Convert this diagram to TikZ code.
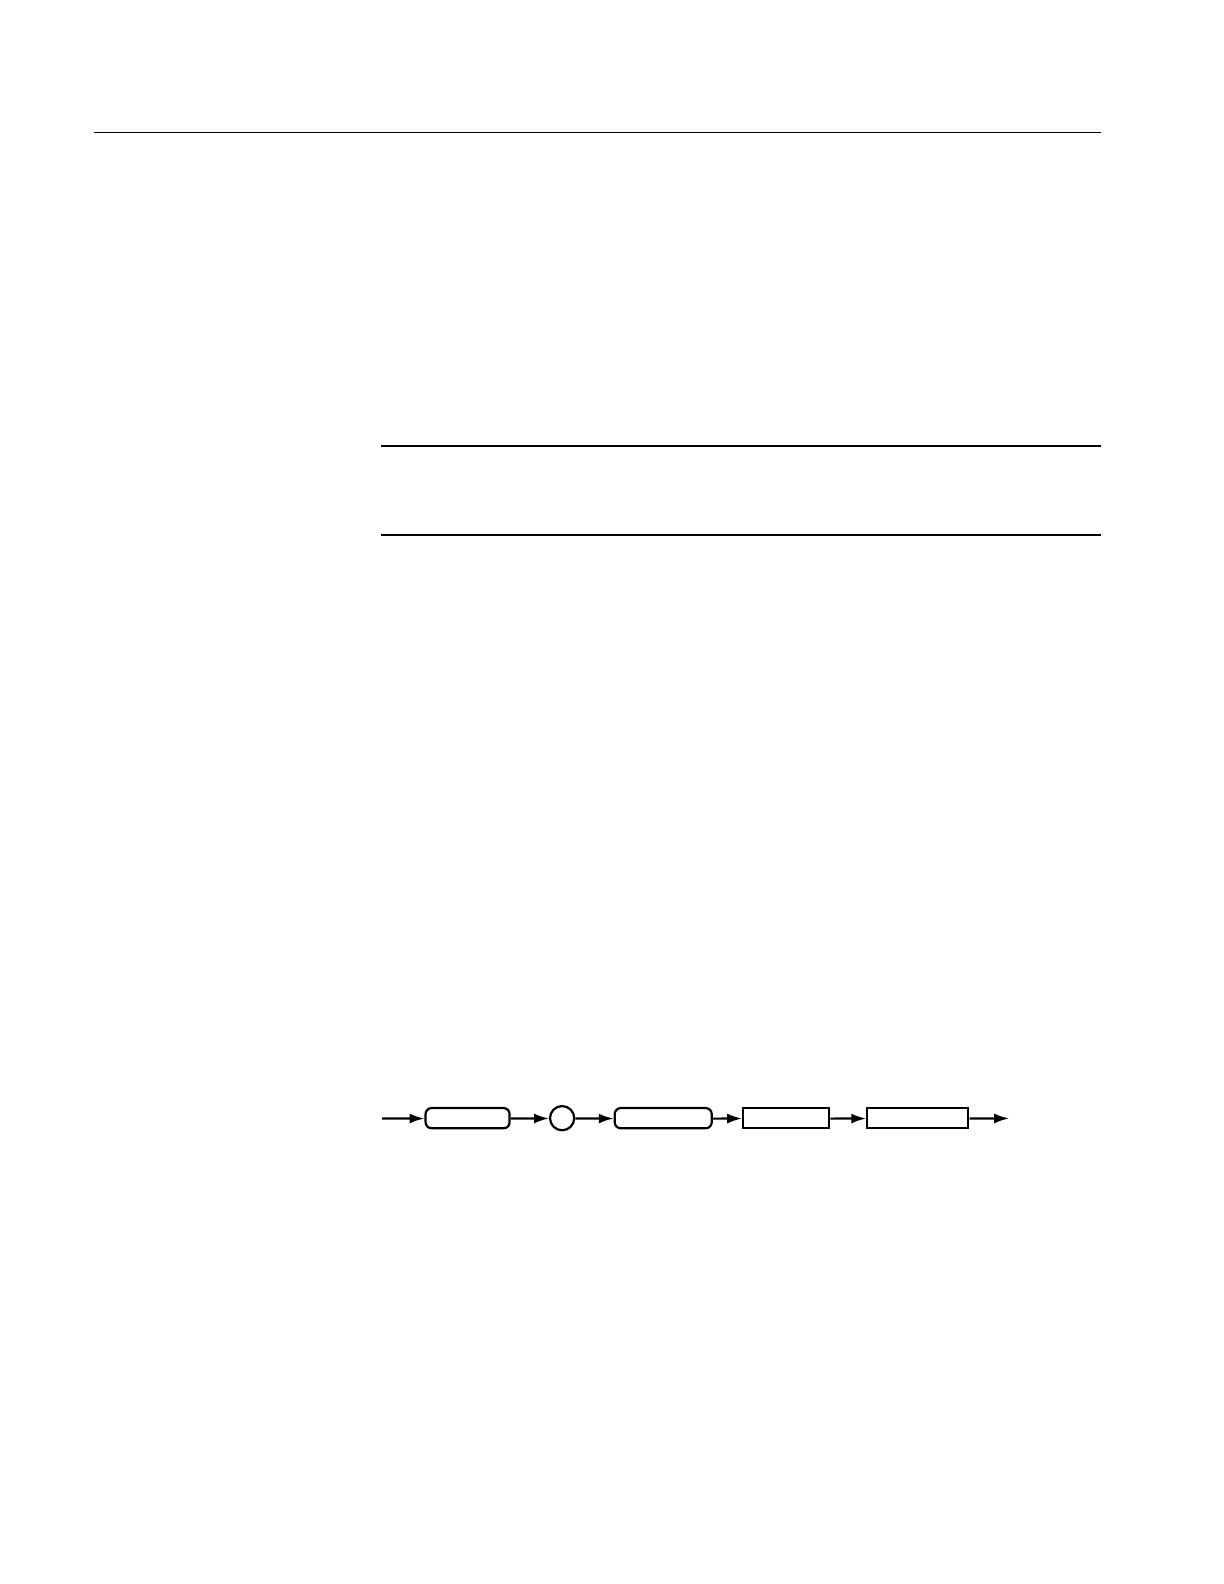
\documentclass[tikz,border=0pt]{standalone}
\usetikzlibrary{arrows.meta}
\begin{document}
\begin{tikzpicture}[x=0.5pt,y=-0.5pt,
  rulestyle/.style={line width=0.75pt},
  termbox/.style={draw,line width=1.1pt,rounded corners=3pt,inner sep=0pt,minimum height=10.1pt},
  ntbox/.style={draw,line width=1.1pt,inner sep=0pt,minimum height=9.8pt},
  circbox/.style={draw,circle,line width=1.1pt,inner sep=0pt,minimum size=12.1pt},
  flow/.style={line width=1.1pt,-{Latex[length=7.5pt,width=5pt]}}]
\useasboundingbox (0,0) rectangle (1224,1584);
\fill[white] (0,0) rectangle (1224,1584);
\begin{scope}[scale=1.011]
% rules
\coordinate (r1a) at (93,131);
\coordinate (r1b) at (1089,131);
\coordinate (r2a) at (377,441);
\coordinate (r2b) at (1089,441);
\coordinate (r3a) at (377,529);
\coordinate (r3b) at (1089,529);
\draw[rulestyle] (r1a) -- (r1b);
\draw[rulestyle] (r2a) -- (r2b);
\draw[rulestyle] (r3a) -- (r3b);
% syntax diagram
\coordinate (start) at (378,1106);
\node[termbox,minimum width=42pt] (b1) at (462.5,1106) {};
\node[circbox] (c1) at (556,1106) {};
\node[termbox,minimum width=48.5pt] (b2) at (656,1106) {};
\node[ntbox,minimum width=43pt] (b3) at (777.5,1106) {};
\node[ntbox,minimum width=50.5pt] (b4) at (907.7,1106) {};
\coordinate (finish) at (998,1106);
\draw[flow] (start) -- (b1);
\draw[flow] (b1) -- (c1);
\draw[flow] (c1) -- (b2);
\draw[flow] (b2) -- (b3);
\draw[flow] (b3) -- (b4);
\draw[flow] (b4) -- (finish);
\end{scope}
\end{tikzpicture}
\end{document}
